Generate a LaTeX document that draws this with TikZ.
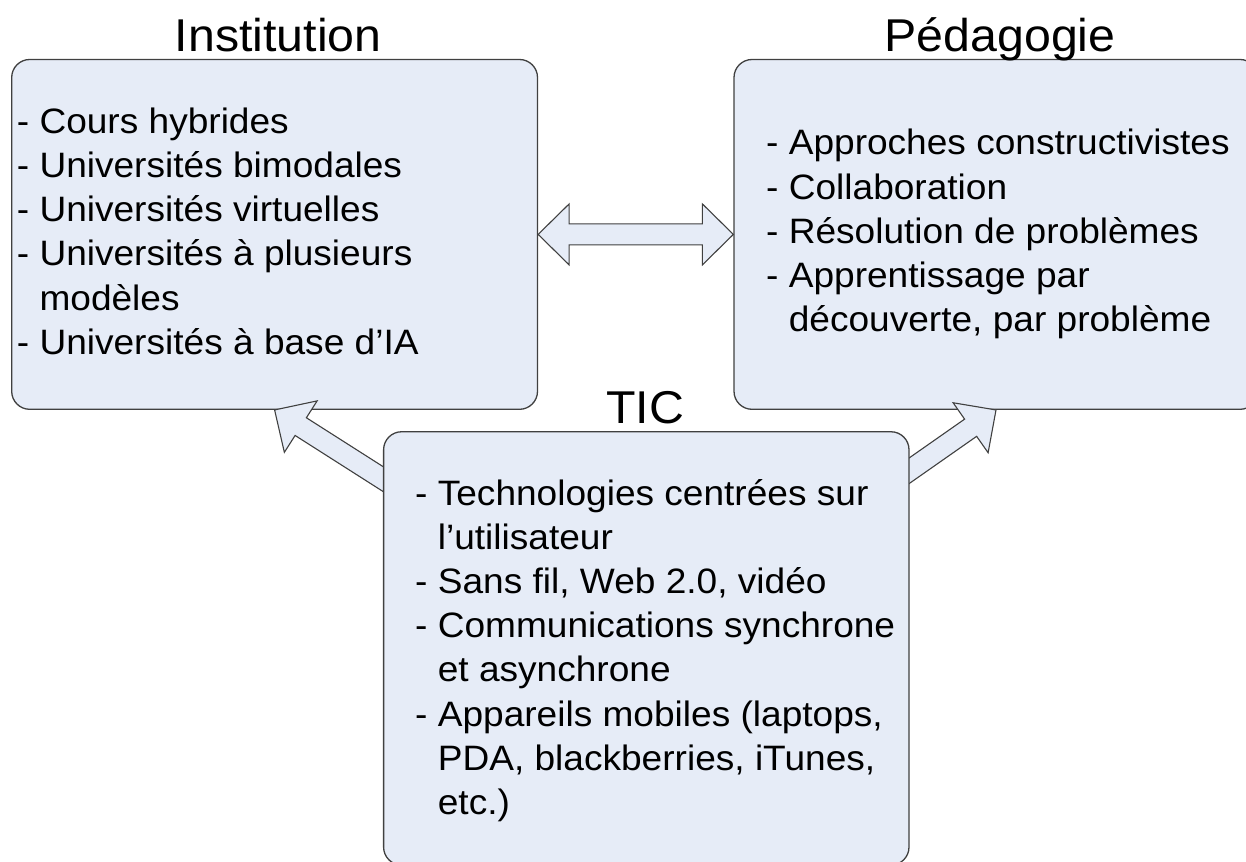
\documentclass[tikz,border=0pt]{standalone}
\usepackage{fontspec}
\setmainfont{Liberation Sans}[FakeStretch=1.05]
\usetikzlibrary{calc}

\definecolor{boxfill}{RGB}{230,236,247}
\definecolor{boxline}{RGB}{64,64,64}

\tikzset{
  panel/.style={draw=boxline, fill=boxfill, line width=1.3pt,
    rounded corners=18pt, inner sep=0pt},
  blockarrow/.style={draw=boxline, fill=boxfill, line width=1.1pt, line join=miter},
  heading/.style={anchor=base, inner sep=0pt, font=\fontsize{46}{55}\selectfont},
  itemlist/.style={anchor=base west, inner sep=0pt, font=\fontsize{35.3}{44.2}\selectfont},
}
% hanging indent for wrapped list lines
\newcommand{\wrapind}{\phantom{- }}

\begin{document}
\begin{tikzpicture}[x=1pt, y=1pt]
  \useasboundingbox (0,0) rectangle (1246,-861);
  \clip (0,0) rectangle (1246,-861);

  % the two upper panels
  \node[panel, minimum width=525.8pt, minimum height=349.8pt] (inst) at (274.6,-234.4) {};
  \node[panel, minimum width=524pt, minimum height=349.8pt] (ped) at (996,-234.4) {};

  % two-way link between institution and pedagogy
  \draw[blockarrow] (inst.east) -- ++(31,30.5) -- ++(0,-20)
    -- ($(ped.west)+(-31,10.5)$) -- ++(0,20) -- (ped.west)
    -- ++(-31,-30.5) -- ++(0,20) -- ($(inst.east)+(31,-10.5)$)
    -- ++(0,-20) -- cycle;

  % arrows rising from the ICT panel
  \begin{scope}[shift={(inst.south)}, rotate=147.5]
    \draw[blockarrow] (0,0) -- (-31,30.5) -- (-31,10.5) -- (-170,10.5)
      -- (-170,-10.5) -- (-31,-10.5) -- (-31,-30.5) -- cycle;
  \end{scope}
  \begin{scope}[shift={(ped.south)}, rotate=35]
    \draw[blockarrow] (0,0) -- (-31,30.5) -- (-31,10.5) -- (-140,10.5)
      -- (-140,-10.5) -- (-31,-10.5) -- (-31,-30.5) -- cycle;
  \end{scope}

  % lower panel, on top of the arrow tails
  \node[panel, minimum width=525.4pt, minimum height=433.3pt] (tic) at (646.3,-648.4) {};

  % headings
  \node[heading] (instTitle) at (278.3,-51.7) {Institution};
  \node[heading] (pedTitle) at (1000,-51.7) {Pédagogie};
  \node[heading] (ticTitle) at (645,-423.3) {TIC};

  % panel contents
  \node[itemlist] (instList) at (16.7,-133.3) {%
    \begin{tabular}[t]{@{}l@{}}
      - Cours hybrides\\
      - Universités bimodales\\
      - Universités virtuelles\\
      - Universités à plusieurs\\
      \wrapind modèles\\
      - Universités à base d’IA
    \end{tabular}};

  \node[itemlist] (pedList) at (766,-155) {%
    \begin{tabular}[t]{@{}l@{}}
      - Approches constructivistes\\
      - Collaboration\\
      - Résolution de problèmes\\
      - Apprentissage par\\
      \wrapind découverte, par problème
    \end{tabular}};

  \node[itemlist] (ticList) at (415,-505) {%
    \begin{tabular}[t]{@{}l@{}}
      - Technologies centrées sur\\
      \wrapind l’utilisateur\\
      - Sans fil, Web 2.0, vidéo\\
      - Communications synchrone\\
      \wrapind et asynchrone\\
      - Appareils mobiles (laptops,\\
      \wrapind PDA, blackberries, iTunes,\\
      \wrapind etc.)
    \end{tabular}};
\end{tikzpicture}
\end{document}
